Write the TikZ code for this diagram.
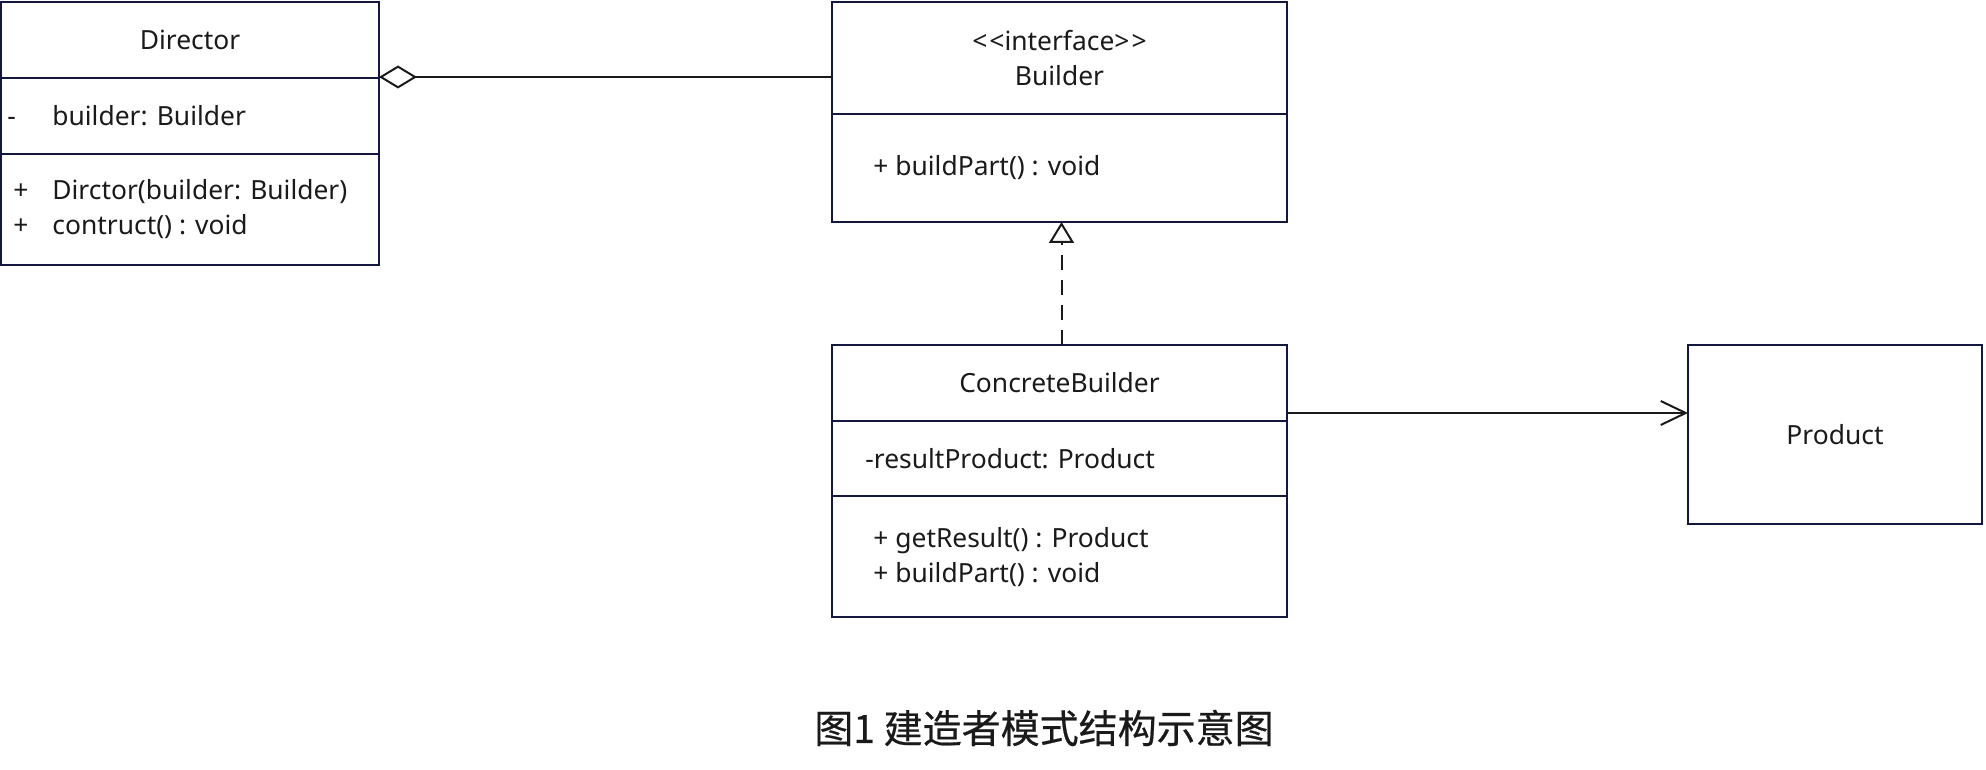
\documentclass[tikz,border=0pt]{standalone}
\usepackage{fontspec}
\setmainfont{Noto Sans}
\newfontfamily\cjkfont[FakeBold=0.5]{Noto Sans CJK SC}
\usetikzlibrary{arrows.meta,positioning}
\definecolor{boxline}{RGB}{20,24,64}
\definecolor{ink}{RGB}{26,26,26}
\tikzset{
  compart/.style={draw=boxline,line width=1pt,inner sep=0pt,outer sep=0pt,text=ink,
    font=\fontsize{13.2pt}{17.5pt}\selectfont},
  member/.style={anchor=west,inner sep=0pt,text=ink,align=left,
    font=\fontsize{13.2pt}{17.5pt}\selectfont},
  conn/.style={line width=1pt,ink},
}

\begin{document}
\begin{tikzpicture}[x=0.5pt,y=-0.5pt]
  \useasboundingbox (0,0) rectangle (1986,770);

  % Director
  \node[compart,anchor=north west,minimum width=189pt,minimum height=38pt] (dirtitle) at (1,2) {Director};
  \node[compart,below=0pt of dirtitle,minimum width=189pt,minimum height=38pt] (dirattr) {};
  \node[compart,below=0pt of dirattr,minimum width=189pt,minimum height=55.5pt] (dirmeth) {};
  \node[member] (dirattrtxt) at ([xshift=3pt]dirattr.west) {\makebox[22.5pt][l]{-}builder: Builder};
  \node[member] (dirmethtxt) at ([xshift=3pt]dirmeth.west)
    {\makebox[22.5pt][l]{\hspace{3pt}+}Dirctor(builder: Builder)\\
     \makebox[22.5pt][l]{\hspace{3pt}+}contruct() : void};

  % Builder
  \node[compart,anchor=north west,minimum width=227.5pt,minimum height=56pt,align=center] (bldtitle) at (832,2)
    {<\kern1pt<interface>\kern1pt>\\Builder};
  \node[compart,below=0pt of bldtitle,minimum width=227.5pt,minimum height=54pt] (bldmeth) {};
  \node[member] (bldmethtxt) at ([xshift=20.5pt]bldmeth.west) {+ buildPart() : void};

  % ConcreteBuilder
  \node[compart,anchor=north west,minimum width=227.5pt,minimum height=38pt] (cbtitle) at (832,345) {ConcreteBuilder};
  \node[compart,below=0pt of cbtitle,minimum width=227.5pt,minimum height=37.5pt] (cbattr) {};
  \node[compart,below=0pt of cbattr,minimum width=227.5pt,minimum height=60.5pt] (cbmeth) {};
  \node[member] (cbattrtxt) at ([xshift=16.5pt]cbattr.west) {-resultProduct: Product};
  \node[member] (cbmethtxt) at ([xshift=20.5pt,yshift=-0.5pt]cbmeth.west)
    {+ getResult() : Product\\+ buildPart() : void};

  % Product
  \node[compart,anchor=north west,minimum width=147pt,minimum height=89.5pt] (prod) at (1688,345) {Product};

  % relations
  \draw[conn,{Diamond[open,length=19pt,width=11.5pt]}-] ([yshift=0.5pt]dirtitle.south east)
    -- ([yshift=0.5pt]bldtitle.west |- dirtitle.south east);
  \draw[conn,dash pattern=on 7.5pt off 5pt,-{Triangle[open,length=10.5pt,width=12.5pt]}]
    ([xshift=1pt]cbtitle.north) -- ([xshift=1pt]bldmeth.south);
  \draw[conn,-{Straight Barb[length=12.5pt,width=12pt]}] ([yshift=4pt]cbtitle.south east)
    -- ([yshift=4pt]prod.west |- cbtitle.south east);

  \node[text=ink,font=\cjkfont\fontsize{19.5pt}{24pt}\selectfont] (caption) at (1044,728) {图1 建造者模式结构示意图};
\end{tikzpicture}
\end{document}
